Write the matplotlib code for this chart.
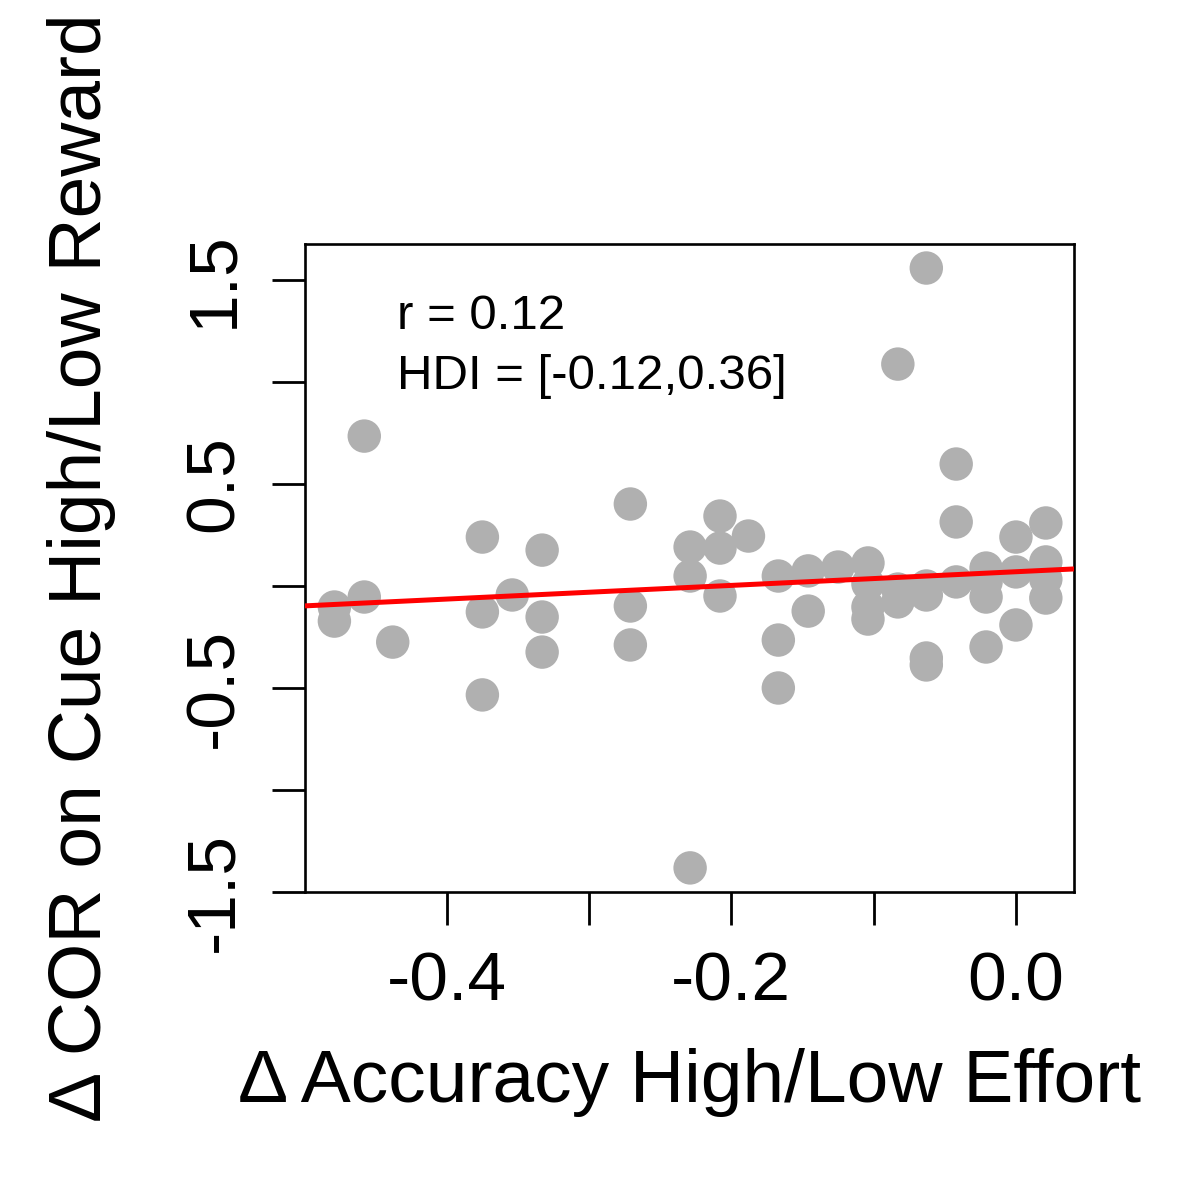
import matplotlib
matplotlib.use("Agg")
import matplotlib.pyplot as plt

plt.rcParams['font.family'] = ['Liberation Sans', 'DejaVu Sans']

# change in accuracy (high vs low effort), per participant
acc_diff = [
  -0.479, -0.479, -0.458, -0.458, -0.438,
  -0.375, -0.375, -0.375, -0.354, -0.333, -0.333, -0.333,
  -0.271, -0.271, -0.271,
  -0.229, -0.229, -0.229, -0.208, -0.208, -0.208, -0.188,
  -0.167, -0.167, -0.167, -0.146, -0.146, -0.125,
  -0.104, -0.104, -0.104, -0.104, -0.083, -0.083, -0.083,
  -0.063, -0.063, -0.063, -0.063, -0.063,
  -0.042, -0.042, -0.042, -0.021, -0.021, -0.021, -0.021,
  0.0, 0.0, 0.0, 0.021, 0.021, 0.021, 0.021,
]
# change in COR on cue (high vs low reward)
cor_diff = [
  -0.103, -0.172, 0.735, -0.054, -0.275,
  0.240, -0.127, -0.534, -0.044, 0.176, -0.152, -0.324,
  0.402, -0.098, -0.289,
  0.191, 0.049, -1.382, 0.343, 0.186, -0.049, 0.245,
  0.049, -0.265, -0.500, 0.074, -0.123, 0.093,
  0.113, 0.010, -0.103, -0.162, -0.015, -0.078, 1.088,
  1.559, 0.0, -0.044, -0.353, -0.387,
  0.598, 0.314, 0.020, 0.088, 0.020, -0.054, -0.299,
  0.240, 0.069, -0.191, 0.309, 0.118, 0.034, -0.059,
]

fit_intercept = 0.07
fit_slope = 0.335
r_text = "r = 0.12"
hdi_text = "HDI = [-0.12,0.36]"

fig = plt.figure(figsize=(12, 12), dpi=100)
ax = fig.add_axes([0.254, 0.2567, 0.641, 0.54])

ax.scatter(acc_diff, cor_diff, s=580, color='#b0b0b0', edgecolors='none', zorder=2)
ax.axline((0, fit_intercept), slope=fit_slope, color='red', lw=3.6, zorder=3)

ax.set_xlim(-0.4998, 0.0408)
ax.set_ylim(-1.5, 1.677)

xt = [-0.4, -0.3, -0.2, -0.1, 0.0]
ax.set_xticks(xt)
ax.set_xticklabels(['-0.4', '', '-0.2', '', '0.0'])
yt = [-1.5, -1.0, -0.5, 0.0, 0.5, 1.0, 1.5]
ax.set_yticks(yt)
ax.set_yticklabels(['-1.5', '', '-0.5', '', '0.5', '', '1.5'], rotation=90, va='center')

ax.tick_params(axis='both', length=24, width=2.0, labelsize=50, pad=18, direction='out')
for sp in ax.spines.values():
  sp.set_linewidth(1.9)

ax.set_xlabel('\u0394 Accuracy High/Low Effort', fontsize=54, labelpad=24)
ax.set_ylabel('\u0394 COR on Cue High/Low Reward', fontsize=54, labelpad=48)

ax.text(-0.435, 1.26, r_text, fontsize=35.5, ha='left', va='baseline')
ax.text(-0.435, 0.966, hdi_text, fontsize=35.5, ha='left', va='baseline')

fig.savefig('out.png', dpi=100)
